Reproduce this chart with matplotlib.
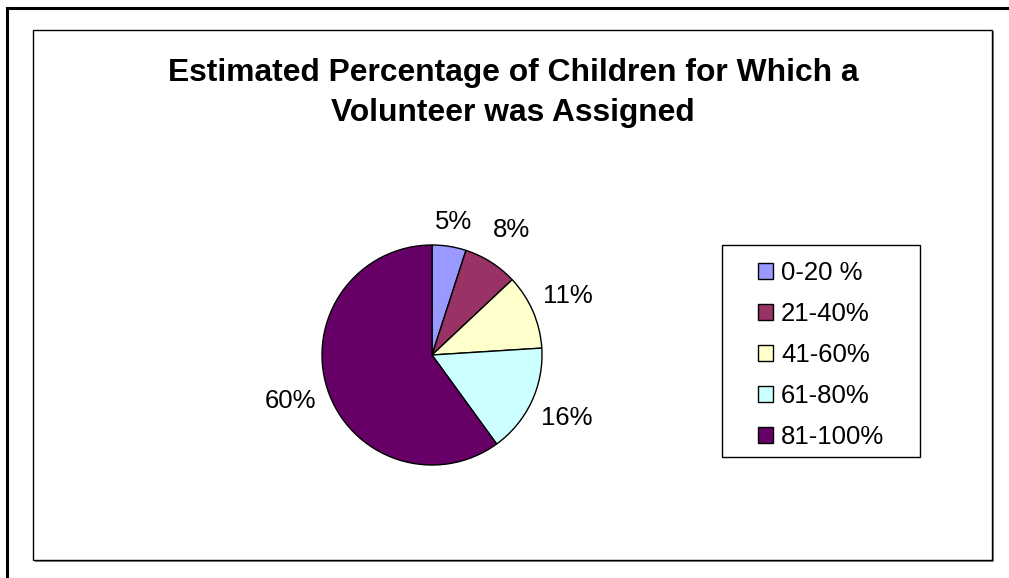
import matplotlib
matplotlib.use("Agg")
import matplotlib.pyplot as plt
from matplotlib.patches import Rectangle, Patch
from matplotlib.lines import Line2D

categories = ["0-20 %", "21-40%", "41-60%", "61-80%", "81-100%"]
values = [5, 8, 11, 16, 60]
value_labels = ["5%", "8%", "11%", "16%", "60%"]
colors = ["#9999FF", "#993366", "#FFFFCC", "#CCFFFF", "#660066"]
title = "Estimated Percentage of Children for Which a\nVolunteer was Assigned"

W, H = 1009, 578
plt.rcParams['font.family'] = ['Liberation Sans', 'DejaVu Sans']
fig = plt.figure(figsize=(W / 100, H / 100), dpi=100)
fig.patch.set_facecolor("white")

def fx(x):
    return x / W

def fy(y):
    return 1 - y / H

# outer frame (top and left edges)
fig.add_artist(Line2D([fx(7), fx(1009)], [fy(8), fy(8)], color="black", lw=2.2, zorder=-1))
fig.add_artist(Line2D([fx(7), fx(7)], [fy(8), fy(578)], color="black", lw=2.2, zorder=-1))

# inner chart box with shadow
fig.add_artist(Rectangle((fx(35), fy(562)), fx(992 - 33), (562 - 31) / H,
                         facecolor="#888888", edgecolor="none", zorder=-3))
fig.add_artist(Rectangle((fx(33), fy(560)), fx(992 - 33), (560 - 30) / H,
                         facecolor="white", edgecolor="black", lw=1.0, zorder=-2))

fig.text(fx(513), fy(93), title, ha="center", va="center", fontsize=22.9,
         fontweight="bold", linespacing=1.45)

# pie axes
cx, cy, r = 432, 355, 110
ax = fig.add_axes([fx(cx - r), fy(cy + r), 2 * r / W, 2 * r / H])
wedges, texts = ax.pie(values, colors=colors, startangle=90, counterclock=False,
                       radius=1.0, labels=value_labels, labeldistance=1.35,
                       wedgeprops=dict(edgecolor="black", linewidth=1.0),
                       textprops=dict(fontsize=18.5))
ax.set_xlim(-1, 1)
ax.set_ylim(-1, 1)
ax.set_aspect("equal")
ax.axis("off")
for t in texts:
    t.set_ha("center")
    t.set_va("center")
    t.set_clip_on(False)
x0, y0 = texts[0].get_position()
texts[0].set_position((x0 * 0.91, y0 * 0.91))

# legend box
fig.add_artist(Rectangle((fx(722), fy(457)), fx(920 - 722), (457 - 245) / H,
                         facecolor="white", edgecolor="black", lw=1.0, zorder=1))
handles = [Patch(facecolor=c, edgecolor="black", linewidth=1.0) for c in colors]
leg = fig.legend(handles, categories, loc="center",
                 bbox_to_anchor=(fx(821), fy(355)),
                 borderaxespad=0, fontsize=18.5, frameon=False,
                 handlelength=0.6, handleheight=0.6,
                 handletextpad=0.3, labelspacing=0.66, borderpad=0)
leg.set_zorder(2)

fig.savefig("out.png", dpi=100, facecolor="white")
